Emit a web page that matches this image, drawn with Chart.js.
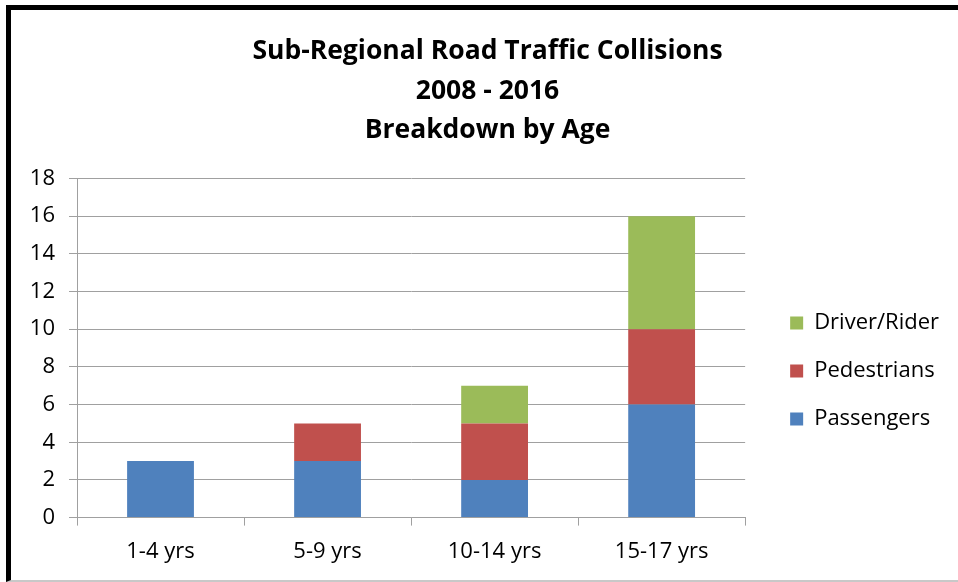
<!DOCTYPE html>
<html lang="en">

<head>
    <script src="https://cdn.jsdelivr.net/npm/chart.js"></script>
    <meta charset="UTF-8">
    <title>Road Traffic Collisions</title>
    <style>
        body {
            margin: 0;
            background: #fff;
        }

        .frame {
            position: absolute;
            left: 6px;
            top: 5px;
            width: 952px;
            height: 577px;
            border-top: 5px solid #000;
            border-left: 5px solid #000;
            border-bottom: 2px solid #c8c8c8;
            box-sizing: border-box;
        }

        #collisions {
            position: absolute;
            left: 0;
            top: 0;
        }
    </style>
</head>

<body>
    <div class="frame"></div>
    <canvas id="collisions" width="958" height="582"></canvas>

    <script>
        const ageGroups = ['1-4 yrs', '5-9 yrs', '10-14 yrs', '15-17 yrs'];
        const passengers = [3, 3, 2, 6];
        const pedestrians = [0, 2, 3, 4];
        const driverRider = [0, 0, 2, 6];
        const titleLines = ['Sub-Regional Road Traffic Collisions', '2008 - 2016', 'Breakdown by Age'];

        const fontFamily = '"Open Sans", Lato, sans-serif';
        const axisGrey = '#a0a0a0';

        // the original puts the legend lower and further right than chart.js does,
        // and centres the title a bit right of the padded box
        const nudge = {
            id: 'nudge',
            afterLayout(chart) {
                const lg = chart.legend;
                lg.left += 19; lg.right += 19;
                lg.top += 66; lg.bottom += 66;
                const t = chart.titleBlock;
                t.left += 8; t.right += 8;
            }
        };

        new Chart(document.getElementById('collisions'), {
            type: 'bar',
            data: {
                labels: ageGroups,
                datasets: [{
                    label: 'Passengers',
                    data: passengers,
                    backgroundColor: '#4f81bd'
                },
                {
                    label: 'Pedestrians',
                    data: pedestrians,
                    backgroundColor: '#c0504d'
                },
                {
                    label: 'Driver/Rider',
                    data: driverRider,
                    backgroundColor: '#9bbb59'
                }]
            },
            plugins: [nudge],
            options: {
                responsive: false,
                animation: false,
                devicePixelRatio: 1,
                layout: {
                    padding: { top: 32, left: 29, right: 28, bottom: 4 }
                },
                datasets: {
                    bar: {
                        categoryPercentage: 0.4,
                        barPercentage: 1
                    }
                },
                scales: {
                    x: {
                        stacked: true,
                        border: { color: axisGrey, width: 1 },
                        grid: {
                            drawOnChartArea: false,
                            drawTicks: true,
                            tickLength: 8,
                            color: axisGrey
                        },
                        ticks: {
                            color: '#000',
                            padding: 13,
                            font: { family: fontFamily, size: 22 }
                        }
                    },
                    y: {
                        stacked: true,
                        min: 0,
                        max: 18,
                        border: { color: axisGrey, width: 1 },
                        grid: {
                            color: axisGrey,
                            tickLength: 8
                        },
                        ticks: {
                            stepSize: 2,
                            color: '#000',
                            padding: 14,
                            font: { family: fontFamily, size: 22 }
                        },
                        afterFit: (scale) => { scale.width = 48; }
                    }
                },
                plugins: {
                    title: {
                        display: true,
                        text: titleLines,
                        color: '#000',
                        font: { family: fontFamily, size: 26.5, weight: 'bold', lineHeight: 1.49 },
                        padding: { top: 0, bottom: 28 }
                    },
                    legend: {
                        position: 'right',
                        reverse: true,
                        labels: {
                            boxWidth: 13,
                            boxHeight: 13,
                            padding: 26,
                            color: '#000',
                            font: { family: fontFamily, size: 22 }
                        }
                    },
                    tooltip: { enabled: false }
                }
            }
        });
    </script>
</body>

</html>
